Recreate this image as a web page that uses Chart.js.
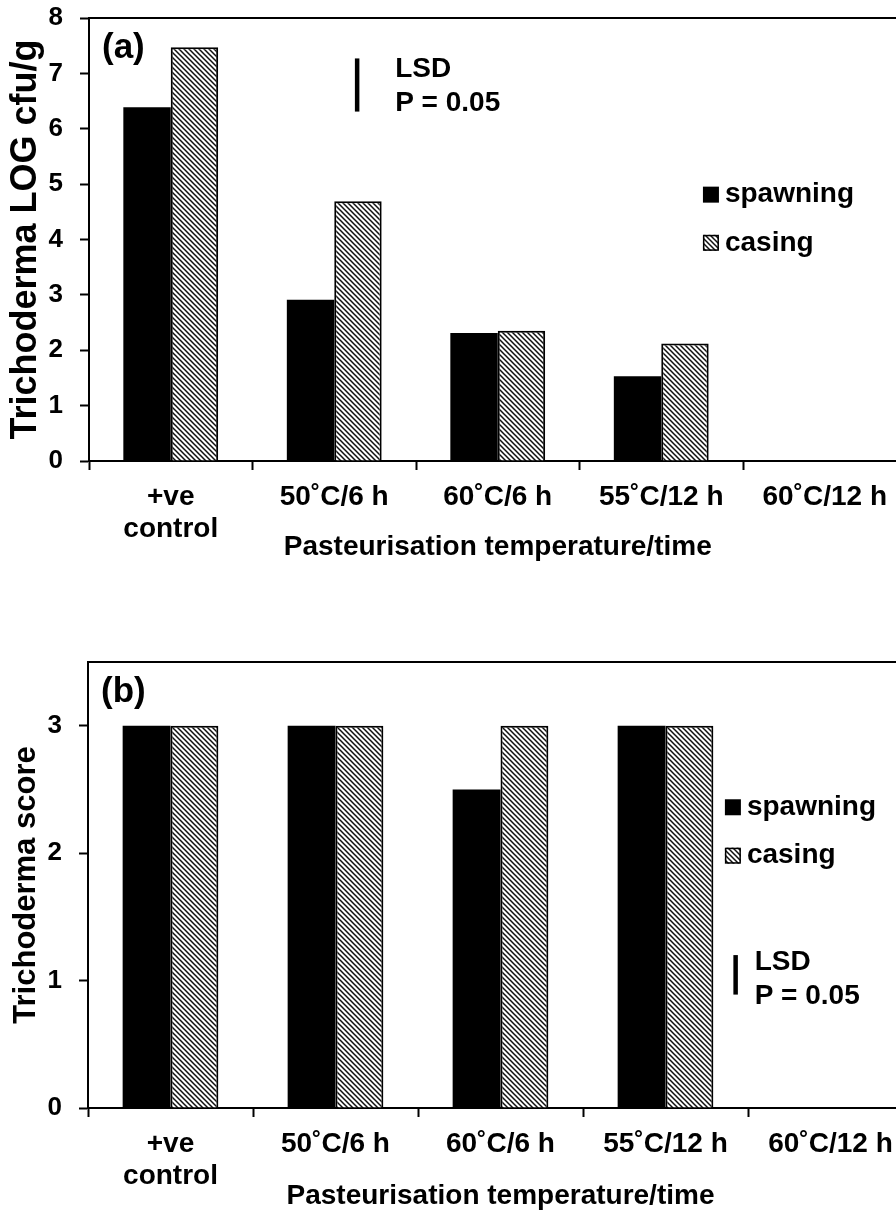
<!DOCTYPE html>
<html>
<head>
<meta charset="utf-8">
<script src="https://cdn.jsdelivr.net/npm/chart.js@4"></script>
<style>
  html, body { margin: 0; padding: 0; background: #fff; }
  body { width: 896px; height: 1212px; overflow: hidden; position: relative; }
  canvas { position: absolute; left: 0; }
  #chartA { top: 0; }
  #chartB { top: 600px; }
</style>
</head>
<body>
<canvas id="chartA" width="920" height="600"></canvas>
<canvas id="chartB" width="926" height="612"></canvas>
<script>
// categories shared by both panels
const categorias = [['+ve', 'control'], '50˚C/6 h', '60˚C/6 h', '55˚C/12 h', '60˚C/12 h'];

// panel (a): Trichoderma LOG cfu/g
const spawningLog = [6.39, 2.91, 2.31, 1.53, 0];
const casingLog = [7.47, 4.69, 2.35, 2.12, 0];
const ticksLog = [0, 1, 2, 3, 4, 5, 6, 7, 8];
const lsdLog = 0.96;      // length of LSD bar
const lsdLogTop = 7.27;   // where the bar starts

// panel (b): Trichoderma score
const spawningScore = [3, 3, 2.5, 3, 0];
const casingScore = [3, 3, 3, 3, 0];
const ticksScore = [0, 1, 2, 3];
const lsdScore = 0.31;
const lsdScoreTop = 1.2;

const FONT = '"Liberation Sans", Arial, sans-serif';

function hatch() {
  const c = document.createElement('canvas');
  c.width = 5; c.height = 5;
  const g = c.getContext('2d');
  g.fillStyle = '#fff';
  g.fillRect(0, 0, 5, 5);
  g.strokeStyle = '#111';
  g.lineWidth = 1.5;
  g.beginPath();
  g.moveTo(-1, -1); g.lineTo(6, 6);
  g.moveTo(-1, 4); g.lineTo(1, 6);
  g.moveTo(4, -1); g.lineTo(6, 1);
  g.stroke();
  return g.createPattern(c, 'repeat');
}
const rayado = hatch();

// frame, panel letter, LSD bar and legend drawn on top of the chart
const anotaciones = {
  id: 'anotaciones',
  afterDraw(chart, args, o) {
    const { ctx, chartArea: a, scales: { x, y } } = chart;
    ctx.save();
    ctx.strokeStyle = '#000';
    ctx.lineWidth = 2;
    ctx.beginPath();
    ctx.moveTo(a.left, a.top);
    ctx.lineTo(a.right, a.top);
    ctx.lineTo(a.right, a.bottom);
    ctx.stroke();

    ctx.fillStyle = '#000';
    ctx.textAlign = 'left';
    ctx.textBaseline = 'middle';
    ctx.font = `bold 35px ${FONT}`;
    ctx.fillText(o.panel, a.left + 13, a.top + 30);

    // LSD
    const lx = x.getPixelForDecimal(o.lsdX);
    const ly1 = y.getPixelForValue(o.lsdTop);
    const ly2 = y.getPixelForValue(o.lsdTop - o.lsd);
    ctx.lineWidth = 4.5;
    ctx.beginPath();
    ctx.moveTo(lx, ly1);
    ctx.lineTo(lx, ly2);
    ctx.stroke();
    ctx.font = `bold 28px ${FONT}`;
    ctx.fillText('LSD', lx + o.lsdGap, ly1 + o.lsdDy);
    ctx.fillText('P = 0.05', lx + o.lsdGap, ly1 + o.lsdDy + 34);

    // legend
    const gx = x.getPixelForDecimal(o.legX);
    chart.data.datasets.forEach((ds, i) => {
      const cy = y.getPixelForValue(o.legY[i]);
      ctx.fillStyle = ds.backgroundColor;
      ctx.fillRect(gx, cy - 8, 16, 16);
      if (ds.borderWidth) {
        ctx.lineWidth = 1.5;
        ctx.strokeStyle = '#000';
        ctx.strokeRect(gx + 0.75, cy - 7.25, 14.5, 14.5);
      }
      ctx.fillStyle = '#000';
      ctx.font = `bold 28px ${FONT}`;
      ctx.fillText(ds.label, gx + 22, cy);
    });
    ctx.restore();
  }
};

function crearGrafico(id, spawning, casing, tickVals, opts) {
  return new Chart(document.getElementById(id), {
    type: 'bar',
    data: {
      labels: categorias,
      datasets: [
        { label: 'spawning', data: spawning, backgroundColor: '#000', borderWidth: 0 },
        { label: 'casing', data: casing, backgroundColor: rayado, borderColor: '#000', borderWidth: 2 }
      ]
    },
    options: {
      responsive: false,
      animation: false,
      events: [],
      categoryPercentage: 0.58,
      barPercentage: 1,
      layout: { padding: { top: opts.top, right: opts.right, left: 0, bottom: 0 } },
      plugins: {
        legend: { display: false },
        tooltip: { enabled: false },
        anotaciones: opts.notes
      },
      scales: {
        x: {
          grid: { display: true, drawOnChartArea: false, drawTicks: true, tickLength: 9, tickWidth: 2, tickColor: '#000', offset: true },
          border: { display: true, color: '#000', width: 2 },
          ticks: { color: '#000', autoSkip: false, maxRotation: 0, padding: 12,
                   font: { family: FONT, size: 28, weight: 'bold', lineHeight: 1.125 } },
          title: { display: true, text: 'Pasteurisation temperature/time', color: '#000',
                   font: { family: FONT, size: 28, weight: 'bold', lineHeight: 1 },
                   padding: { top: 0, bottom: opts.xTitlePad } },
          afterFit: s => { s.height = opts.xHeight; s.paddingLeft = 0; s.paddingRight = 0; }
        },
        y: {
          min: 0,
          max: opts.max,
          afterBuildTicks: s => { s.ticks = tickVals.map(v => ({ value: v })); },
          grid: { drawOnChartArea: false, drawTicks: true, tickLength: 9, tickWidth: 2, tickColor: '#000' },
          border: { display: true, color: '#000', width: 2 },
          ticks: { color: '#000', padding: 17, font: { family: FONT, size: 26, weight: 'bold' } },
          title: { display: true, text: opts.yTitle, color: '#000',
                   font: { family: FONT, size: opts.yTitleSize, weight: 'bold', lineHeight: 1 },
                   padding: { top: opts.yTitlePad, bottom: 0 } },
          afterFit: s => { s.width = opts.left; s.paddingTop = 0; s.paddingBottom = 0; }
        }
      }
    },
    plugins: [anotaciones]
  });
}

crearGrafico('chartA', spawningLog, casingLog, ticksLog, {
  top: 18, right: 13.5, left: 89, max: 8, xHeight: 139, xTitlePad: 39,
  yTitle: 'Trichoderma LOG cfu/g', yTitleSize: 36, yTitlePad: 8.5,
  notes: { panel: '(a)', lsd: lsdLog, lsdTop: lsdLogTop, lsdX: 0.328, lsdGap: 38, lsdDy: 11,
           legX: 0.751, legY: [4.81, 3.94] }
});

crearGrafico('chartB', spawningScore, casingScore, ticksScore, {
  top: 62, right: 13, left: 88, max: 3.5, xHeight: 104, xTitlePad: 2,
  yTitle: 'Trichoderma score', yTitleSize: 31, yTitlePad: 11,
  notes: { panel: '(b)', lsd: lsdScore, lsdTop: lsdScoreTop, lsdX: 0.785, lsdGap: 19, lsdDy: 7,
           legX: 0.772, legY: [2.36, 1.98] }
});
</script>
</body>
</html>
